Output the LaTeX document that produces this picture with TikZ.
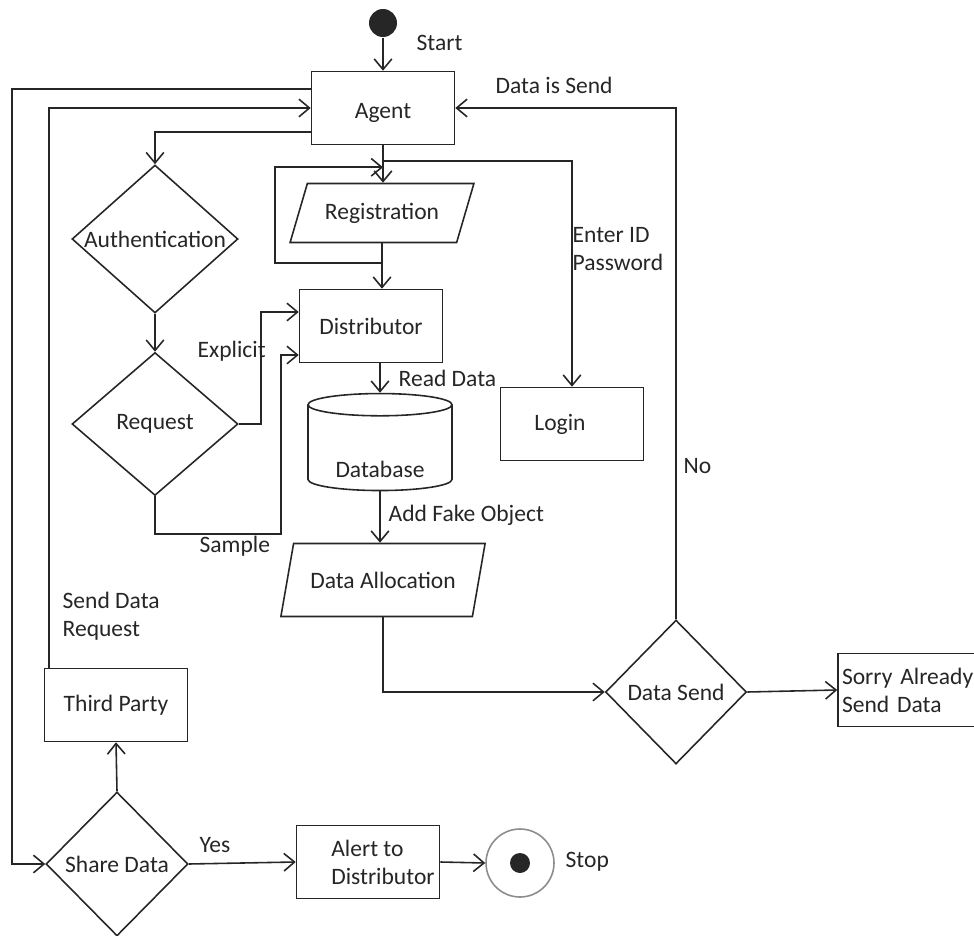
\documentclass[tikz,border=0pt]{standalone}
\usepackage{fontspec}
\setmainfont{Carlito}
\usetikzlibrary{shapes.geometric,arrows.meta,calc}

\begin{document}
\begin{tikzpicture}[x=0.02cm, y=-0.02cm, line width=0.9pt, color=black!85,
	every node/.style={font=\fontsize{13.4}{16}\selectfont},
	box/.style={rectangle, draw, minimum width=2.86cm, minimum height=1.46cm},
	dec/.style={diamond, draw, inner sep=0pt},
	io/.style={trapezium, draw, trapezium left angle=57, trapezium right angle=123, trapezium stretches=true, inner sep=0pt},
	arr/.style={-{Straight Barb[length=6pt,width=10pt]}}]
	\useasboundingbox (0,0) rectangle (974,936);
	\clip (0,0) rectangle (974,936);
	
	\node (start) at (383,23) [circle, fill, minimum size=0.56cm, inner sep=0pt]{};
	\node (agent) at (383,108) [box, label={[yshift=-0.1cm]center:Agent}]{};
	\node (reg) at (382,213) [io, minimum width=3.68cm, minimum height=1.18cm]{Registration};
	\node (dist) at (371,326) [box]{Distributor};
	\node (db) at (380,448) [draw, cylinder, shape border rotate=90, aspect=0.25, minimum width=2.88cm, minimum height=1.94cm, inner sep=0pt, label={[yshift=-0.42cm]center:Database}]{\phantom{Database}};
	\node (dalloc) at (383,580) [io, trapezium left angle=58, trapezium right angle=122, minimum width=4.12cm, minimum height=1.46cm]{Data Allocation};
	\node (login) at (572,424) [box, label={[xshift=-0.24cm]center:Login}]{};
	\node (auth) at (155,239) [dec, minimum width=3.32cm, minimum height=2.96cm, label=center:Authentication]{};
	\node (req) at (155,424) [dec, minimum width=3.32cm, minimum height=2.86cm, label=center:Request]{};
	\node (datasend) at (676,692) [dec, minimum width=2.82cm, minimum height=2.88cm, label=center:Data Send]{};
	\node (sorry) at (910,690) [box, text width=2.72cm, inner xsep=0.08cm, align=left]{Sorry Already\\Send Data};
	\node (third) at (116,705) [box]{Third Party};
	\node (share) at (117,864) [dec, minimum width=2.84cm, minimum height=2.88cm, label=center:Share Data]{};
	\node (alert) at (368,862) [box, label={[align=left, xshift=0.3cm]center:Alert to\\Distributor}]{};
	\node (stop) at (520,863) [circle, draw=black!45, minimum size=1.36cm, inner sep=0pt]{};
	\node (stopdot) at (stop) [circle, fill, minimum size=0.4cm, inner sep=0pt]{};
	
	\node (lstart) at (410,43) [anchor=west]{Start};
	\node (lsend) at (489,85) [anchor=west]{Data is Send};
	\node (lenter) at (566,249) [anchor=west, align=left]{Enter ID\\Password};
	\node (lexpl) at (191,351) [anchor=west]{Explicit};
	\node (lsample) at (193,546) [anchor=west]{Sample};
	\node (lread) at (392,378) [anchor=west]{Read Data};
	\node (lfake) at (382,515) [anchor=west]{Add Fake Object};
	\node (lrequest) at (56,616) [anchor=west, align=left]{Send Data\\Request};
	\node (lno) at (677,466) [anchor=west]{No};
	\node (lyes) at (193,845) [anchor=west]{Yes};
	\node (lstop) at (559,862) [anchor=west]{Stop};
	
	\coordinate (lft) at (12,0);
	\coordinate (lp) at (275,0);
	\coordinate (ra) at ($(agent.south)+(0,22)$);
	\coordinate (rc) at ($(agent.south)+(0,16)$);
	\coordinate (rb) at ($(reg.south)+(0,20)$);
	
	\draw[arr] (start) -- (agent);
	\draw[arr] ($(agent.north west)+(0,18)$) -| (lft |- share.west) -- (share.west);
	\draw[arr] ($(third.north west)+(5,0)$) |- (agent.west);
	\draw[arr] ($(agent.south west)+(0,-13)$) -| (auth.north);
	\draw[arr] (auth.south) -- (req.north);
	\draw[arr] (req.east) -- ++(22,0) |- ($(dist.west)+(0,-14)$);
	\draw[arr] (req.south) -- ++(0,38) -| ($(dist.west)+(-18,29)$) -- ($(dist.west)+(0,29)$);
	\draw[arr] (agent) -- (agent |- reg.north);
	\draw[arr] (rc) -| (login.north);
	\draw[arr] (reg.south |- rb) -| (lp |- ra) -- (ra);
	\draw[arr] (reg.south) -- (reg.south |- dist.north);
	\draw[arr] (db.north |- dist.south) -- (db.north);
	\draw[arr] (db.south) -- (db.south |- dalloc.north);
	\draw[arr] (dalloc.south) |- (datasend.west);
	\draw[arr] (datasend.north) |- (agent.east);
	\draw[arr] (datasend.east) -- (sorry.west);
	\draw[arr] (share.north) -- (third.south);
	\draw[arr] (share.east) -- (alert.west);
	\draw[arr] (alert.east) -- (stop.west);
	
\end{tikzpicture}
\end{document}
